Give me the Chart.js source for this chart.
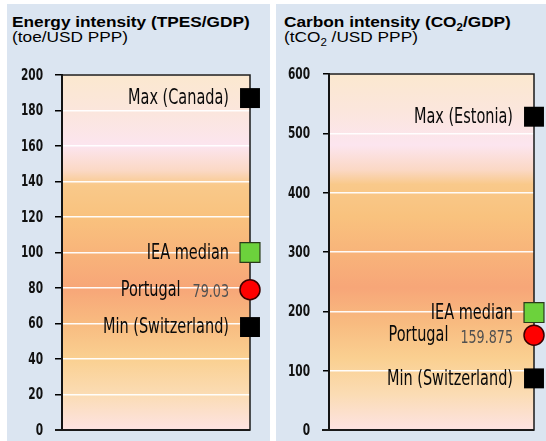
<!DOCTYPE html>
<html>
<head>
<meta charset="utf-8">
<script src="https://cdn.jsdelivr.net/npm/chart.js@4.4.0/dist/chart.umd.min.js"></script>
<style>
  body { margin: 0; background: #fff; width: 546px; height: 441px; position: relative; overflow: hidden; }
  .panel { position: absolute; top: 4px; height: 437px; background: #dbe5f1; }
  .title { position: absolute; font-family: 'Liberation Sans', Arial, sans-serif; font-size: 15px; line-height: 15px;
           color: #000; white-space: nowrap; transform: scaleX(1.15); transform-origin: 0 0; }
  .title sub { font-size: 10px; line-height: 0; }
  canvas { position: absolute; top: 0; }
</style>
</head>
<body>
<div class="panel" style="left:7px; width:263px;"></div>
<div class="panel" style="left:276px; width:270px;"></div>
<div class="title" style="left:12px; top:14px;"><b>Energy intensity (TPES/GDP)</b><br>(toe/USD PPP)</div>
<div class="title" style="left:284px; top:14px;"><b>Carbon intensity (CO<sub>2</sub>/GDP)</b><br>(tCO<sub>2</sub> /USD PPP)</div>
<canvas id="energy" width="270" height="441" style="left:0;"></canvas>
<canvas id="carbon" width="270" height="441" style="left:276px;"></canvas>
<script>
const energyLabels = ['Max (Canada)', 'IEA median', 'Portugal', 'Min (Switzerland)'];
const energyValues = [187, 100, 79.03, 58];
const energyShown = ['', '', '79.03', ''];

const carbonLabels = ['Max (Estonia)', 'IEA median', 'Portugal', 'Min (Switzerland)'];
const carbonValues = [528, 198, 159.875, 87];
const carbonShown = ['', '', '159.875', ''];

const markerStyles = ['rect', 'rect', 'circle', 'rect'];
const markerColors = ['#000000', '#6cd23c', '#ff0000', '#000000'];

const FONT = "'DejaVu Sans Condensed', 'DejaVu Sans', sans-serif";
const SQUEEZE = 0.785;

// draw text squeezed horizontally, right edge at x
function narrowText(ctx, txt, x, y) {
  ctx.save();
  ctx.translate(x, y);
  ctx.scale(SQUEEZE, 1);
  ctx.textAlign = 'right';
  ctx.fillText(txt, 0, 0);
  ctx.restore();
  return ctx.measureText(txt).width * SQUEEZE;
}

const bgPlugin = {
  id: 'bg',
  beforeDraw(chart) {
    const { ctx, chartArea: a } = chart;
    const g = ctx.createLinearGradient(0, a.top, 0, a.bottom);
    g.addColorStop(0, '#fbe8cf');
    g.addColorStop(0.1, '#fbe6dc');
    g.addColorStop(0.2, '#fce5ef');
    g.addColorStop(0.27, '#fbd8c4');
    g.addColorStop(0.31, '#f9c98a');
    g.addColorStop(0.4, '#f9c27e');
    g.addColorStop(0.5, '#f8b47a');
    g.addColorStop(0.6, '#f7a678');
    g.addColorStop(0.7, '#f8bb80');
    g.addColorStop(0.8, '#fad091');
    g.addColorStop(0.9, '#fbdcb4');
    g.addColorStop(1, '#fde3e3');
    ctx.save();
    ctx.fillStyle = g;
    ctx.fillRect(a.left, a.top, a.right - a.left, a.bottom - a.top);
    ctx.restore();
  },
  beforeDatasetsDraw(chart) {
    const { ctx, chartArea: a } = chart;
    ctx.save();
    ctx.strokeStyle = '#1a1a1a';
    ctx.lineWidth = 1.5;
    ctx.strokeRect(a.left, a.top, a.right - a.left, a.bottom - a.top);
    ctx.beginPath();
    ctx.lineWidth = 2;
    ctx.moveTo(a.left - 7, a.bottom);
    ctx.lineTo(a.right, a.bottom);
    ctx.stroke();
    // y tick labels
    const y = chart.scales.y;
    ctx.font = 'bold 15px ' + FONT;
    ctx.fillStyle = '#111111';
    ctx.textBaseline = 'middle';
    y.ticks.forEach(t => {
      narrowText(ctx, String(t.value), a.left - 19, y.getPixelForValue(t.value) + 1);
    });
    ctx.restore();
  }
};

const labelPlugin = {
  id: 'pointLabels',
  afterDatasetsDraw(chart) {
    const { ctx } = chart;
    const meta = chart.getDatasetMeta(0);
    const names = chart.options.plugins.pointLabels.names;
    const shown = chart.options.plugins.pointLabels.shown;
    ctx.save();
    ctx.textBaseline = 'middle';
    meta.data.forEach((pt, i) => {
      let xEnd = pt.x - 21;
      const y = pt.y + 1;
      if (shown[i]) {
        ctx.font = '18px ' + FONT;
        ctx.fillStyle = '#505050';
        xEnd -= narrowText(ctx, shown[i], xEnd, y + 2) + 12;
      }
      ctx.font = '20.5px ' + FONT;
      ctx.fillStyle = '#0a0a0a';
      narrowText(ctx, names[i], xEnd, y);
    });
    ctx.restore();
  }
};

function makeChart(id, names, values, shown, max, step, axisWidth, padRight, padTop, tickLen) {
  return new Chart(document.getElementById(id), {
    type: 'scatter',
    data: {
      datasets: [{
        data: values.map(v => ({ x: 1, y: v })),
        pointStyle: markerStyles,
        backgroundColor: markerColors,
        borderColor: ['#000000', '#2a3a1a', '#3a0000', '#000000'],
        borderWidth: [0, 1.2, 1.5, 0],
        pointRadius: [14.1, 14.1, 10, 14.1],
        clip: false
      }]
    },
    options: {
      responsive: false,
      animation: false,
      layout: { autoPadding: false, padding: { left: 0, right: padRight, top: padTop, bottom: 11 } },
      plugins: {
        legend: { display: false },
        tooltip: { enabled: false },
        pointLabels: { names: names, shown: shown }
      },
      scales: {
        x: { type: 'linear', min: 0, max: 1, display: false },
        y: {
          min: 0,
          max: max,
          afterFit(scale) { scale.width = axisWidth; },
          ticks: { stepSize: step, display: false },
          grid: {
            color: 'rgba(255,255,255,0.95)',
            lineWidth: 1.5,
            tickColor: '#000000',
            tickLength: tickLen,
            tickWidth: 1.5
          },
          border: { display: true, color: '#000000', width: 2 }
        }
      }
    },
    plugins: [bgPlugin, labelPlugin]
  });
}

makeChart('energy', energyLabels, energyValues, energyShown, 200, 20, 62, 20, 75, 7);
makeChart('carbon', carbonLabels, carbonValues, carbonShown, 600, 100, 53, 12, 74, 6);
</script>
</body>
</html>
